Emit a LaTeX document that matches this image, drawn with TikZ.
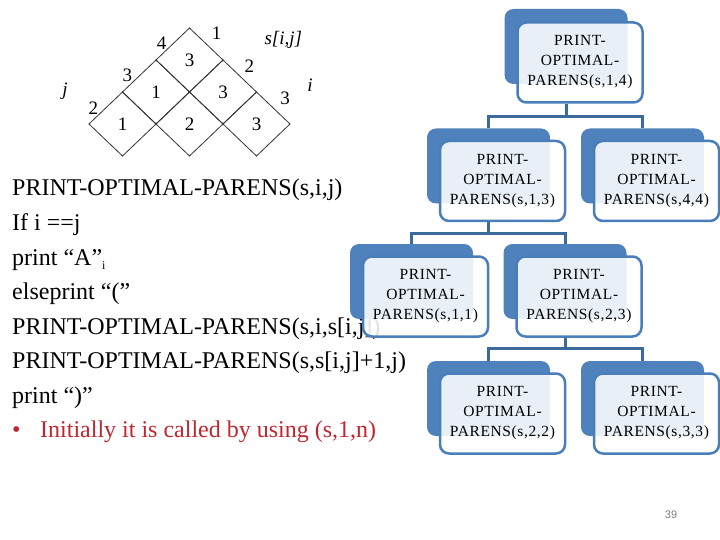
\documentclass[tikz,border=0pt]{standalone}
\usepackage{fontspec}
\setmainfont{Liberation Serif}
\newfontfamily\boxfont[LetterSpace=4]{Liberation Serif}
\newfontfamily\numfont{Liberation Sans}
\pgfdeclarelayer{bg}
\pgfdeclarelayer{paper}
\pgfsetlayers{paper,bg,main}
\definecolor{backblue}{HTML}{4F81BD}
\definecolor{edgeblue}{HTML}{4A7EBB}
\definecolor{connblue}{HTML}{3C6A9A}
\definecolor{redtxt}{HTML}{C0262D}
\tikzset{
 backbox/.style={rectangle, rounded corners=9pt, fill=backblue, minimum width=123pt, minimum height=75pt, inner sep=0pt},
 frontbox/.style={rectangle, rounded corners=9pt, draw=edgeblue, line width=2.5pt, fill=white, fill opacity=0.88, text opacity=1, minimum width=125pt, minimum height=80pt, inner sep=0pt, align=center, font={\boxfont\fontsize{15.5}{20}\selectfont}},
 conn/.style={draw=connblue, line width=3pt},
 code/.style={anchor=base west, inner sep=0pt, font=\fontsize{24}{24}\selectfont},
 gridline/.style={draw=black!80, line width=0.8pt},
 glabel/.style={inner sep=0pt, font=\fontsize{19}{19}\selectfont}
}
\begin{document}
\begin{tikzpicture}[x=1pt,y=-1pt]
\begin{pgfonlayer}{paper}
\fill[white] (0,0) rectangle (720,540);
\end{pgfonlayer}
\useasboundingbox (0,0) rectangle (720,540);
% triangular table s[i,j]
\begin{scope}[shift={(189.5,28)}, x={(-33.5pt,-32pt)}, y={(33.5pt,-32pt)}]
 \foreach \a/\b/\v in {0/0/3,1/0/1,0/1/3,2/0/1,1/1/2,0/2/3} {
  \draw[gridline] (\a,\b) -- ++(1,0) -- ++(0,1) -- ++(-1,0) -- cycle;
  \node[glabel] at (\a+0.5,\b+0.5) {\v};
 }
\end{scope}
\node[glabel] (j4) at (161.7,43.3) {4};
\node[glabel] (j3) at (127.3,75) {3};
\node[glabel] (j2) at (93.3,108.3) {2};
\node[glabel] (i1) at (216.7,33.3) {1};
\node[glabel] (i2) at (249.3,66.7) {2};
\node[glabel] (i3) at (285,98.3) {3};
\node[glabel, font=\itshape\fontsize{19}{19}\selectfont] (jl) at (65,91.7) {j};
\node[glabel, font=\itshape\fontsize{19}{19}\selectfont] (il) at (310,85) {i};
\node[glabel, font=\itshape\fontsize{19}{19}\selectfont] (sl) at (283.3,40) {s[i,j]};
% pseudocode
\node[code] (l1) at (12,196) {PRINT-OPTIMAL-PARENS(s,i,j)};
\node[code] (l2) at (12,230.5) {If i ==j};
\node[code] (l3) at (12,265) {print “A”\raisebox{-5pt}{\fontsize{12}{12}\selectfont i}};
\node[code] (l4) at (12,299.5) {elseprint “(”};
\node[code] (l5) at (12,334) {PRINT-OPTIMAL-PARENS(s,i,s[i,j])};
\node[code] (l6) at (12,368.5) {PRINT-OPTIMAL-PARENS(s,s[i,j]+1,j)};
\node[code] (l7) at (12,403) {print “)”};
\node[code, text=redtxt] (bul) at (12,437.5) {•};
\node[code, text=redtxt] (l8) at (40,437.5) {Initially it is called by using (s,1,n)};
% recursion tree
\node[backbox] (b14) at (566,46.5) {};
\node[frontbox] (n14) at ([xshift=14pt,yshift=-16pt]b14.center) {PRINT-\\OPTIMAL-\\PARENS(s,1,4)};
\node[backbox] (b13) at (488.5,166) {};
\node[frontbox] (n13) at ([xshift=14pt,yshift=-15pt]b13.center) {PRINT-\\OPTIMAL-\\PARENS(s,1,3)};
\node[backbox] (b44) at (642.5,166) {};
\node[frontbox] (n44) at ([xshift=14pt,yshift=-15pt]b44.center) {PRINT-\\OPTIMAL-\\PARENS(s,4,4)};
\node[backbox] (b11) at (411.5,281.5) {};
\node[frontbox] (n11) at ([xshift=14pt,yshift=-15pt]b11.center) {PRINT-\\OPTIMAL-\\PARENS(s,1,1)};
\node[backbox] (b23) at (565,281.5) {};
\node[frontbox] (n23) at ([xshift=14pt,yshift=-15pt]b23.center) {PRINT-\\OPTIMAL-\\PARENS(s,2,3)};
\node[backbox] (b22) at (488.5,398.5) {};
\node[frontbox] (n22) at ([xshift=14pt,yshift=-15pt]b22.center) {PRINT-\\OPTIMAL-\\PARENS(s,2,2)};
\node[backbox] (b33) at (642.5,398.5) {};
\node[frontbox] (n33) at ([xshift=14pt,yshift=-15pt]b33.center) {PRINT-\\OPTIMAL-\\PARENS(s,3,3)};
\begin{pgfonlayer}{bg}
\draw[conn] (b14.center |- n14.south) -- ++(0,13) -| (b13.north);
\draw[conn] (b14.center |- n14.south) -- ++(0,13) -| (b44.north);
\draw[conn] (b13.center |- n13.south) -- ++(0,11) -| (b11.north);
\draw[conn] (b13.center |- n13.south) -- ++(0,11) -| (b23.north);
\draw[conn] (b23.center |- n23.south) -- ++(0,11) -| (b22.north);
\draw[conn] (b23.center |- n23.south) -- ++(0,11) -| (b33.north);
\end{pgfonlayer}
\node[font=\numfont\fontsize{11}{11}\selectfont, text=gray, inner sep=0pt] (pg) at (671,515) {39};
\end{tikzpicture}
\end{document}
